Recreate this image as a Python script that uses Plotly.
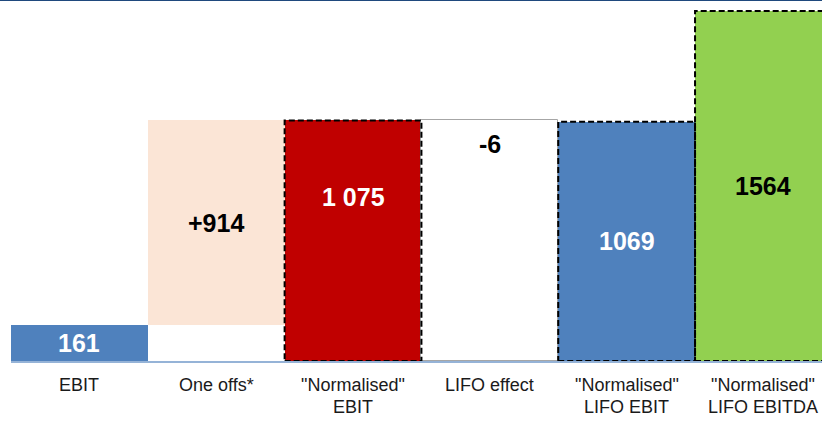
import plotly.graph_objects as go

# ---- data ----
categories = ["EBIT", "One offs*", "\"Normalised\"<br>EBIT", "LIFO effect",
              "\"Normalised\"<br>LIFO EBIT", "\"Normalised\"<br>LIFO EBITDA"]
values = [161, 914, 1075, -6, 1069, 1564]
value_labels = ["161", "+914", "1 075", "-6", "1069", "1564"]
bar_kinds = ["total", "delta", "total", "delta", "total", "total"]

colors = ["#4F81BD", "#FBE5D6", "#C00000", "#FFFFFF", "#4F81BD", "#92D050"]
label_colors = ["white", "black", "white", "black", "white", "black"]
dashed = [False, False, True, False, True, True]

# ---- compute bar bases / tops (waterfall) ----
bases, tops = [], []
running = 0
for v, k in zip(values, bar_kinds):
    if k == "total":
        b, t = 0, v
        running = v
    else:
        b, t = running, running + v
        running = t
    bases.append(min(b, t))
    tops.append(max(b, t))

x = list(range(len(categories)))
fig = go.Figure()

# LIFO effect drawn as white box from 0 to previous total
bar_base = []
bar_len = []
for i in x:
    if bar_kinds[i] == "delta" and values[i] < 0:
        bar_base.append(0)
        bar_len.append(tops[i])
    else:
        bar_base.append(bases[i])
        bar_len.append(tops[i] - bases[i])

line_cols = ["rgba(0,0,0,0)"] * len(x)
line_w = [0] * len(x)
for i in x:
    if colors[i] == "#FFFFFF":
        line_cols[i] = "#A6A6A6"
        line_w[i] = 1

shapes = []
# shadows for dashed bars
for i in x:
    if dashed[i]:
        shapes.append(dict(type="rect", xref="x", yref="y", layer="below",
                           x0=i - 0.5 + 0.03, x1=i + 0.5 + 0.03,
                           y0=bar_base[i] - 20, y1=bar_base[i] + bar_len[i] - 20,
                           fillcolor="rgba(0,0,0,0.15)", line=dict(width=0)))

fig.add_trace(go.Bar(x=x, y=bar_len, base=bar_base, width=1,
                     marker=dict(color=colors, line=dict(color=line_cols, width=line_w)),
                     hoverinfo="skip"))

for i in x:
    if dashed[i]:
        shapes.append(dict(type="rect", xref="x", yref="y", layer="above",
                           x0=i - 0.5, x1=i + 0.5,
                           y0=bar_base[i], y1=bar_base[i] + bar_len[i],
                           fillcolor="rgba(0,0,0,0)",
                           line=dict(color="black", width=2, dash="6px,3px")))

# top rule
shapes.append(dict(type="line", xref="paper", yref="paper", x0=-0.02, x1=1.0,
                   y0=1, y1=1, line=dict(color="#1F497D", width=2)))

annotations = []
label_y_factor = [0.5, 0.5, 0.68, 0.9, 0.5, 0.5]
for i in x:
    ly = bar_base[i] + bar_len[i] * label_y_factor[i]
    annotations.append(dict(x=i, y=ly, xref="x", yref="y", text=value_labels[i],
                            showarrow=False,
                            font=dict(family="Liberation Sans, Arial",
                                      size=25, color=label_colors[i], weight="bold")))

for i, c in enumerate(categories):
    lines = c.split("<br>")
    for j, ln in enumerate(lines):
        annotations.append(dict(x=i, y=0, xref="x", yref="paper", text=ln,
                                showarrow=False, yanchor="middle", yshift=-24 - 22 * j,
                                font=dict(family="Liberation Sans, Arial",
                                          size=18, color="#1A1A1A")))

fig.update_layout(
    width=822, height=423,
    margin=dict(l=11, r=0, t=0, b=62),
    paper_bgcolor="white", plot_bgcolor="white",
    showlegend=False,
    bargap=0,
    shapes=shapes,
    annotations=annotations,
    xaxis=dict(range=[-0.5, 5.428], showticklabels=False, showgrid=False,
               zeroline=False, showline=True, linecolor="#95B3D7", linewidth=1.5,
               fixedrange=True),
    yaxis=dict(range=[0, 1613], visible=False, showgrid=False, zeroline=False,
               fixedrange=True),
)

fig.write_html("out.html", config={"displayModeBar": False},
               post_script="document.body.style.margin='0px';")
